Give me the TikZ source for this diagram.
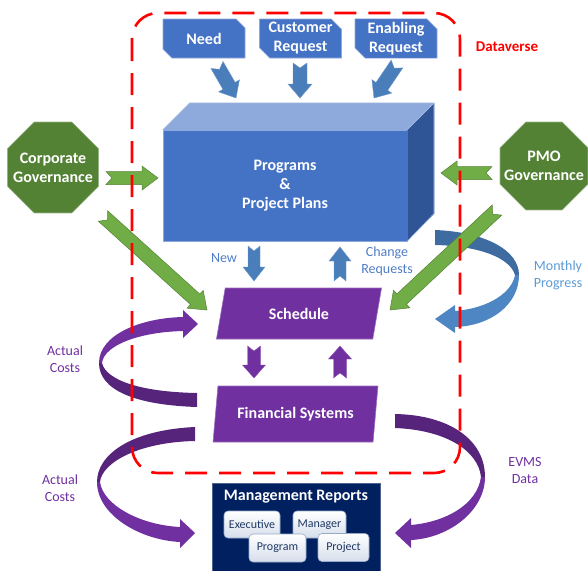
\documentclass[tikz,border=0pt]{standalone}
\usepackage{fontspec}
\setmainfont{Carlito}
\usetikzlibrary{calc,shapes.geometric,shapes.misc}

\definecolor{boxblue}{RGB}{68,114,196}
\definecolor{boxtop}{RGB}{142,169,219}
\definecolor{boxside}{RGB}{47,85,151}
\definecolor{arrblue}{RGB}{74,126,187}
\definecolor{ribdarkblue}{RGB}{62,108,160}
\definecolor{riblightblue}{RGB}{78,134,196}
\definecolor{grnarrow}{RGB}{112,173,71}
\definecolor{grnedge}{RGB}{84,130,53}
\definecolor{octgreen}{RGB}{84,130,53}
\definecolor{purp}{RGB}{112,48,160}
\definecolor{purpdark}{RGB}{86,36,122}
\definecolor{navy}{RGB}{0,32,96}
\definecolor{navytext}{RGB}{31,56,100}
\definecolor{lblblue}{RGB}{80,125,200}
\definecolor{lblsky}{RGB}{91,155,213}
\definecolor{dashred}{RGB}{255,0,0}
\definecolor{cardedge}{RGB}{150,170,200}
\definecolor{cardshade}{RGB}{214,222,236}

% style, from, to, half width, head half width, head length, notch
\newcommand{\blockarr}[7]{%
  \coordinate (ba-h) at ($(#3)!#6!(#2)$);
  \path[#1] ($(#2)!#4!-90:(#3)$) -- ($(ba-h)!#4!-90:(#3)$) -- ($(ba-h)!#5!-90:(#3)$) -- (#3)
    -- ($(ba-h)!#5!90:(#3)$) -- ($(ba-h)!#4!90:(#3)$) -- ($(#2)!#4!90:(#3)$) -- ($(#2)!#7!(#3)$) -- cycle;
}
% octagon: style, centre, circumradius
\newcommand{\octagon}[3]{%
  \path[#1] (#2) +(22.5:#3) -- +(67.5:#3) -- +(112.5:#3) -- +(157.5:#3)
    -- +(202.5:#3) -- +(247.5:#3) -- +(292.5:#3) -- +(337.5:#3) -- cycle;
}

\begin{document}
\begin{tikzpicture}[x=1pt,y=-1pt,
  boldtxt/.style={font=\fontsize{16}{19}\selectfont\bfseries, text=white, align=center},
  lbl/.style={font=\fontsize{14}{17}\selectfont, align=center},
  topbox/.style={chamfered rectangle, chamfered rectangle corners={north east,south west},
    chamfered rectangle xsep=7pt, fill=boxblue, draw=boxtop, line width=0.6pt,
    minimum width=82pt, minimum height=39pt, inner sep=0pt, boldtxt},
  octo/.style={fill=octgreen, draw=octgreen!60!white, line width=0.6pt},
  para/.style={trapezium, trapezium stretches=true, fill=purp, draw=purp!70!white,
    line width=0.6pt, inner sep=0pt, boldtxt},
  card/.style={rectangle, rounded corners=4pt, draw=cardedge, line width=0.6pt,
    top color=white, bottom color=cardshade, text=navytext,
    font=\fontsize{12}{14}\selectfont, minimum height=27pt, inner sep=0pt},
  bluearr/.style={fill=arrblue, draw=arrblue!80!white, line width=0.4pt},
  grnarr/.style={fill=grnarrow, draw=grnedge, line width=0.5pt},
  purarr/.style={fill=purp, draw=purp!80!white, line width=0.4pt},
  reddash/.style={draw=dashred, line width=2.6pt, dash pattern=on 22pt off 12pt},
]
\useasboundingbox (0,0) rectangle (588,570);

% ---------- ribbons (curved arrows) ----------
% Monthly Progress
\fill[ribdarkblue] (435,230) .. controls (485,232) and (519,250) .. (519,275)
  -- (515,275) .. controls (510,258) and (480,246) .. (435,245) -- cycle;
\fill[riblightblue] (519,275) .. controls (519,305) and (490,326) .. (455,327)
  -- (455,333) -- (435,319) -- (455,305) -- (455,311)
  .. controls (490,308) and (512,292) .. (515,275) -- cycle;
% Actual Costs (upper)
\fill[purpdark] (197,407) .. controls (135,405) and (99,390) .. (99,363)
  -- (102,363) .. controls (106,380) and (140,392) .. (197,393) -- cycle;
\fill[purp] (99,363) .. controls (99,335) and (140,318) .. (183,317)
  -- (183,310) -- (198,324) -- (183,338) -- (183,331)
  .. controls (140,332) and (104,345) .. (102,363) -- cycle;
% Actual Costs (lower)
\fill[purpdark] (195,427) .. controls (130,430) and (97,455) .. (97,482)
  -- (100,482) .. controls (102,462) and (140,442) .. (195,441) -- cycle;
\fill[purp] (97,482) .. controls (97,515) and (140,540) .. (180,542)
  -- (180,548) -- (195,533) -- (180,519) -- (180,527)
  .. controls (140,525) and (103,505) .. (100,482) -- cycle;
% EVMS Data
\fill[purpdark] (395,414) .. controls (450,415) and (485,440) .. (485,477)
  -- (481,477) .. controls (478,450) and (445,430) .. (395,428) -- cycle;
\fill[purp] (485,477) .. controls (485,510) and (450,538) .. (411,540)
  -- (411,548) -- (395,533) -- (411,518) -- (411,525)
  .. controls (445,522) and (477,505) .. (481,477) -- cycle;

% ---------- top request boxes ----------
\node[topbox] (need) at (204,38.5) {Need};
\node[topbox] (cust) at (300.5,38.5) {Customer\\Request};
\node[topbox] (enab) at (396,38.5) {Enabling\\Request};

% ---------- 3D box ----------
\node[boldtxt, fill=boxblue, draw=boxtop, line width=0.5pt, minimum width=244pt,
  minimum height=111pt, inner sep=0pt] (plans) at (285,185.5) {Programs\\\&\\Project Plans};
\fill[boxtop] (plans.north west) -- ++(27,-27) -- ++(244,0) -- (plans.north east) -- cycle;
\fill[boxside] (plans.north east) -- ++(27,-27) -- ++(0,111) -- (plans.south east) -- cycle;
\draw[boxtop!70!white, line width=0.5pt] (plans.north west) -- ++(27,-27) -- ++(244,0)
  -- ++(0,111) -- (plans.south east);
\draw[boxtop!70!white, line width=0.5pt] (plans.north east) -- ++(27,-27);

% ---------- octagons ----------
\coordinate (corpc) at (53,167.5);
\coordinate (pmoc) at (544,166);
\octagon{octo}{corpc}{49.2}
\octagon{octo}{pmoc}{47.6}
\node[boldtxt] (corp) at (corpc) {Corporate\\Governance};
\node[boldtxt] (pmo) at (pmoc) {PMO\\Governance};

% ---------- schedule / financial ----------
\node[para, trapezium left angle=72.6, trapezium right angle=107.4,
  minimum width=166pt, minimum height=51pt] (sched) at (299,313.5) {Schedule};
\node[para, trapezium left angle=75, trapezium right angle=105,
  minimum width=165pt, minimum height=56pt] (fin) at (295.5,414) {Financial Systems};

% ---------- management reports ----------
\node[fill=navy, draw=navy!70!white, line width=0.5pt, minimum width=168pt,
  minimum height=95pt, inner sep=0pt] (mgmt) at (296,530.5) {};
\node[boldtxt] (mgmttitle) at (296,497) {Management Reports};
\node[card, minimum width=56pt] (exec) at (252,524.5) {Executive};
\node[card, minimum width=53pt] (mgr) at (319.5,524.5) {Manager};
\node[card, minimum width=57pt, minimum height=28pt] (prog) at (277.5,548) {Program};
\node[card, minimum width=51pt, minimum height=28pt] (proj) at (343.5,547.5) {Project};

% ---------- block arrows ----------
\coordinate (na1) at (217,65);   \coordinate (na2) at (236,98);
\coordinate (ca1) at (300,63);   \coordinate (ca2) at (300,98);
\coordinate (ea1) at (397,64);   \coordinate (ea2) at (374,98);
\coordinate (nw1) at (254,246);  \coordinate (nw2) at (254,281);
\coordinate (cr1) at (340,281);  \coordinate (cr2) at (340,247);
\coordinate (pd1) at (254,346);  \coordinate (pd2) at (254,378);
\coordinate (pu1) at (340,378);  \coordinate (pu2) at (340,346);
\coordinate (g11) at (106,178);  \coordinate (g12) at (158,178);
\coordinate (g21) at (492,173);  \coordinate (g22) at (441,173);
\coordinate (g31) at (103,216);  \coordinate (g32) at (207,310);
\coordinate (g41) at (497,210);  \coordinate (g42) at (390,310);

\blockarr{bluearr}{na1}{na2}{7pt}{12pt}{14pt}{5pt}
\blockarr{bluearr}{ca1}{ca2}{7pt}{12pt}{14pt}{5pt}
\blockarr{bluearr}{ea1}{ea2}{7pt}{12pt}{14pt}{5pt}
\blockarr{bluearr}{nw1}{nw2}{6pt}{11pt}{14pt}{5pt}
\blockarr{bluearr}{cr1}{cr2}{6pt}{11pt}{14pt}{5pt}
\blockarr{purarr}{pd1}{pd2}{6.5pt}{11.5pt}{13pt}{5pt}
\blockarr{purarr}{pu1}{pu2}{6.5pt}{11.5pt}{13pt}{5pt}
\blockarr{grnarr}{g11}{g12}{6.5pt}{12pt}{16pt}{6pt}
\blockarr{grnarr}{g21}{g22}{6.5pt}{12pt}{16pt}{6pt}
\blockarr{grnarr}{g31}{g32}{7pt}{12pt}{16pt}{6pt}
\blockarr{grnarr}{g41}{g42}{7pt}{12pt}{16pt}{6pt}

% ---------- labels ----------
\node[lbl, text=lblblue] (lnew) at (224,258) {New};
\node[lbl, text=lblblue] (lchg) at (387,261) {Change\\Requests};
\node[lbl, text=lblsky] (lmon) at (558,275) {Monthly\\Progress};
\node[lbl, text=purp] (lac1) at (65,359) {Actual\\Costs};
\node[lbl, text=purp] (lac2) at (60,488) {Actual\\Costs};
\node[lbl, text=purp] (levm) at (525,470) {EVMS\\Data};
\node[font=\fontsize{15}{17}\selectfont\bfseries, text=dashred] (ldv) at (507,47) {Dataverse};

% ---------- dataverse boundary ----------
\draw[reddash, rounded corners=26pt] (132,13) rectangle (460,473);
\end{tikzpicture}
\end{document}
